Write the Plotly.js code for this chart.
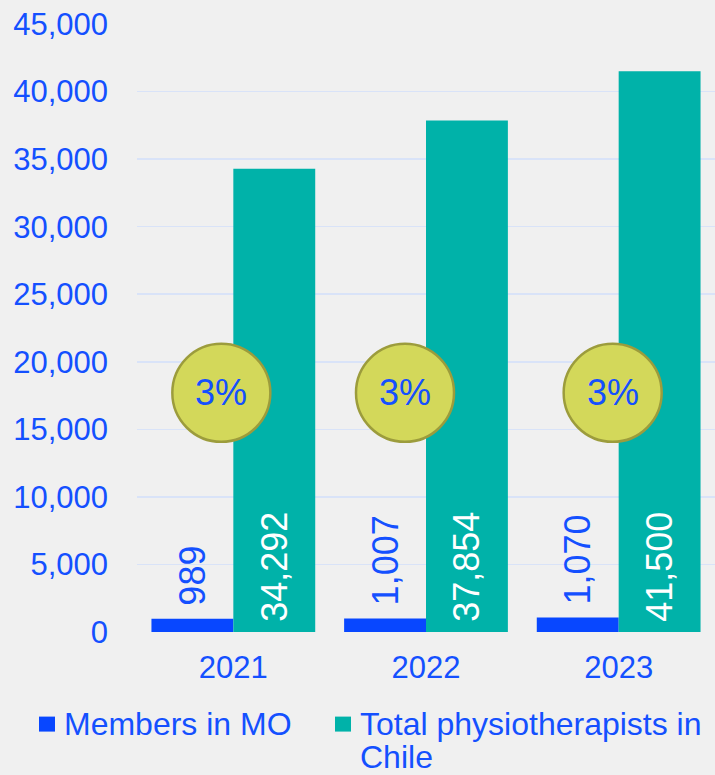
<!DOCTYPE html>
<html>
<head>
<meta charset="utf-8">
<script src="https://cdn.plot.ly/plotly-3.0.1.min.js"></script>
<style>html,body{margin:0;padding:0;background:#f0f0f0;}#chart{width:715px;height:775px;}</style>
</head>
<body>
<div id="chart"></div>
<script>
const years = ["2021", "2022", "2023"];
const membersMO = [989, 1007, 1070];
const totalPhysio = [34292, 37854, 41500];
const shareLabels = ["3%", "3%", "3%"];
const shareLevel = [17700, 17700, 17700];
const seriesNames = ["Members in MO", "Total physiotherapists in<br>Chile"];

const BLUE = "#0847ff";
const TEXTBLUE = "#1450ff";
const TEAL = "#00b2a9";
const FONT = "Liberation Sans, Arial, sans-serif";
const circleShift = [-12, -21, -6];
const R = 49;

// plot-area geometry helpers (pixels -> paper)
const PL = 137, PW = 578, PB = 632.3, PH = 608.7;
const px = p => (p - PL) / PW;
const py = p => (PB - p) / PH;

const traces = [
  {
    type: "bar", name: seriesNames[0].replace("<br>", " "), x: years, y: membersMO,
    marker: {color: BLUE},
    texttemplate: "\u00a0%{y:,}", textposition: "outside", textangle: -90,
    constraintext: "none", cliponaxis: false,
    outsidetextfont: {color: TEXTBLUE, size: 36, family: FONT},
    hoverinfo: "skip", showlegend: false
  },
  {
    type: "bar", name: seriesNames[1].replace("<br>", " "), x: years, y: totalPhysio,
    marker: {color: TEAL},
    texttemplate: "\u2009%{y:,}", textposition: "inside", textangle: -90,
    insidetextanchor: "start", constraintext: "none",
    insidetextfont: {color: "#ffffff", size: 36, family: FONT},
    hoverinfo: "skip", showlegend: false
  }
];

const shapes = years.map((yr, i) => ({
  type: "circle", xref: "x", yref: "y",
  xsizemode: "pixel", ysizemode: "pixel",
  xanchor: i, yanchor: shareLevel[i],
  x0: circleShift[i] - R, x1: circleShift[i] + R, y0: -R, y1: R,
  fillcolor: "#d3d85a", line: {color: "#9c9c3c", width: 2.5}, layer: "above"
}));

const annotations = years.map((yr, i) => ({
  x: i, y: shareLevel[i], xref: "x", yref: "y", text: shareLabels[i],
  showarrow: false, xshift: circleShift[i],
  font: {color: TEXTBLUE, size: 36, family: FONT}
}));

// custom legend: swatches + text lines
const legendColors = [BLUE, TEAL];
const swatchLeft = [39, 335];
const textLeft = [63, 359];
const lineCenters = [724, 757];
seriesNames.forEach((name, k) => {
  shapes.push({
    type: "rect", xref: "paper", yref: "paper",
    x0: px(swatchLeft[k]), x1: px(swatchLeft[k] + 16),
    y0: py(732), y1: py(717),
    fillcolor: legendColors[k], line: {width: 0}
  });
  name.split("<br>").forEach((line, j) => {
    annotations.push({
      xref: "paper", yref: "paper", x: px(textLeft[k]), y: py(lineCenters[j]),
      xanchor: "left", yanchor: "middle", text: line, showarrow: false,
      borderpad: 0,
      font: {color: TEXTBLUE, size: 32, family: FONT}
    });
  });
});

const layout = {
  width: 715, height: 775,
  paper_bgcolor: "#f0f0f0", plot_bgcolor: "#f0f0f0",
  margin: {l: 137, r: 0, t: 24, b: 143},
  font: {family: FONT, color: TEXTBLUE},
  barmode: "group", bargap: 0.15, bargroupgap: 0,
  showlegend: false,
  xaxis: {
    type: "category", showgrid: false, zeroline: false, showline: false,
    tickfont: {size: 31, color: TEXTBLUE, family: FONT}, ticks: "",
    ticklabelstandoff: 14, fixedrange: true, automargin: false
  },
  yaxis: {
    range: [0, 45000], dtick: 5000, tickformat: ",",
    gridcolor: "#d9e3f8", gridwidth: 1.5, zeroline: false, showline: false,
    tickfont: {size: 31, color: TEXTBLUE, family: FONT}, ticks: "",
    ticklabelstandoff: 28, fixedrange: true, automargin: false
  },
  shapes: shapes,
  annotations: annotations
};

Plotly.newPlot("chart", traces, layout, {displayModeBar: false, staticPlot: true});
</script>
</body>
</html>
